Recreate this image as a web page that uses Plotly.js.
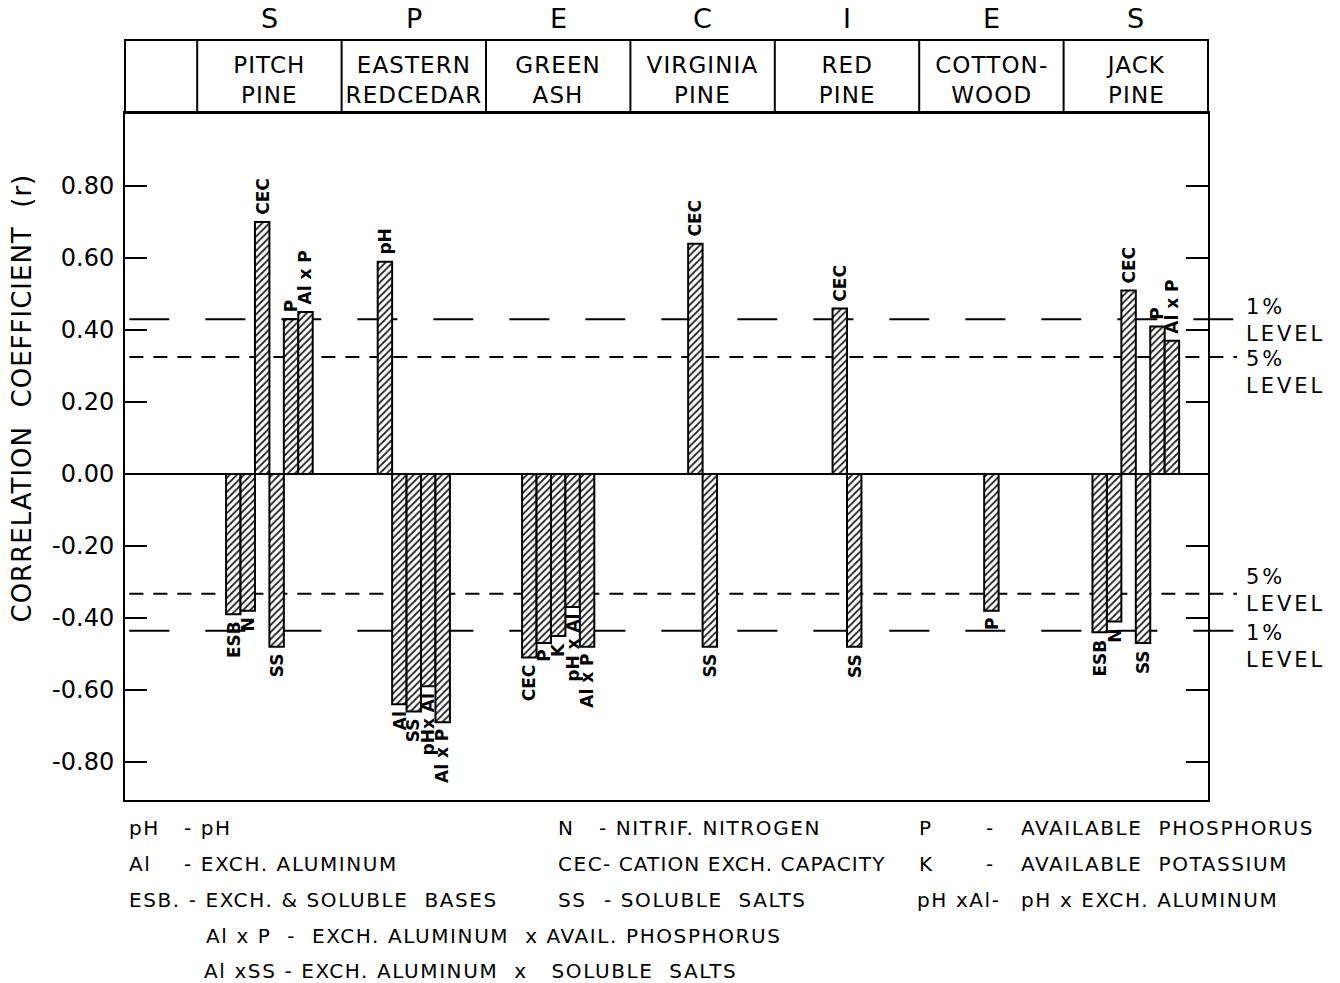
<!DOCTYPE html>
<html>
<head>
<meta charset="utf-8">
<script src="https://cdn.plot.ly/plotly-3.0.1.min.js"></script>
<style>
  html, body { margin: 0; padding: 0; background: #fff; }
  #chart { width: 1340px; height: 983px; }
</style>
</head>
<body>
<div id="chart"></div>
<script>
// ---------------- DATA ----------------
const speciesNames = ['PITCH<br>PINE', 'EASTERN<br>REDCEDAR', 'GREEN<br>ASH', 'VIRGINIA<br>PINE', 'RED<br>PINE', 'COTTON-<br>WOOD', 'JACK<br>PINE'];
const speciesLetters = ['S', 'P', 'E', 'C', 'I', 'E', 'S'];

// one entry per bar: species index, variable label, correlation coefficient r
const barSpecies = [0, 0, 0, 0, 0, 0,
                    1, 1, 1, 1, 1,
                    2, 2, 2, 2, 2,
                    3, 3,
                    4, 4,
                    5,
                    6, 6, 6, 6, 6, 6];
const barVariables = ['ESB', 'N', 'CEC', 'SS', 'P', 'Al x P',
                      'pH', 'Al', 'SS', 'pHx Al', 'Al x P',
                      'CEC', 'P', 'K', 'pH x Al', 'Al x P',
                      'CEC', 'SS',
                      'CEC', 'SS',
                      'P',
                      'ESB', 'N', 'CEC', 'SS', 'P', 'Al x P'];
const barR = [-0.39, -0.38, 0.70, -0.48, 0.43, 0.45,
              0.59, -0.64, -0.66, -0.59, -0.69,
              -0.51, -0.47, -0.45, -0.37, -0.48,
              0.64, -0.48,
              0.46, -0.48,
              -0.38,
              -0.44, -0.41, 0.51, -0.47, 0.41, 0.37];

// significance levels (r)
const levelValues = [0.43, 0.325, -0.333, -0.436];
const levelNames = ['1%<br>LEVEL', '5%<br>LEVEL', '5%<br>LEVEL', '1%<br>LEVEL'];

const yTickVals = [0.8, 0.6, 0.4, 0.2, 0, -0.2, -0.4, -0.6, -0.8];
const yTickText = ['0.80', '0.60', '0.40', '0.20', '0.00', '-0.20', '-0.40', '-0.60', '-0.80'];

const legendRows = [
  [['pH', 128], ['- pH', 183], ['N', 557], ['- NITRIF. NITROGEN', 598], ['P', 918], ['-', 985], ['AVAILABLE  PHOSPHORUS', 1020]],
  [['Al', 128], ['- EXCH. ALUMINUM', 183], ['CEC', 557], ['- CATION EXCH. CAPACITY', 602], ['K', 918], ['-', 985], ['AVAILABLE  POTASSIUM', 1020]],
  [['ESB. - EXCH. & SOLUBLE  BASES', 128], ['SS', 557], ['- SOLUBLE  SALTS', 603], ['pH xAl-', 916], ['pH x EXCH. ALUMINUM', 1020]],
  [['Al x P  -  EXCH. ALUMINUM  x AVAIL. PHOSPHORUS', 205]],
  [['Al xSS - EXCH. ALUMINUM  x   SOLUBLE  SALTS', 203]]
];
const legendRowY = [828, 864, 900, 936, 971];

// ---------------- LAYOUT HELPERS ----------------
const W = 1340, H = 983;
const L = 125, R = 1208, T = 113, B = 800;
const xRange = [-1, 6.5];
const yRange = [-0.906, 1.003];
const barWidth = 0.1;
const FONT = 'DejaVu Sans, Liberation Sans, sans-serif';
const pxX = px => (px - L) / (R - L);
const pxY = py => (B - py) / (B - T);
const dataXToPaper = x => (x - xRange[0]) / (xRange[1] - xRange[0]);
const dataYToPaper = y => (y - yRange[0]) / (yRange[1] - yRange[0]);

// x position of each bar: centred group inside species column
const counts = {};
barSpecies.forEach(s => counts[s] = (counts[s] || 0) + 1);
const seen = {};
const barX = barSpecies.map(s => {
  const k = seen[s] = (seen[s] === undefined ? 0 : seen[s] + 1);
  return s + (k - (counts[s] - 1) / 2) * barWidth;
});

const trace = {
  type: 'bar',
  x: barX,
  y: barR,
  width: barWidth,
  marker: {
    color: 'white',
    line: {color: 'black', width: 2},
    pattern: {shape: '/', fgcolor: '#222', bgcolor: 'white', size: 5, solidity: 0.35}
  },
  hoverinfo: 'skip',
  showlegend: false
};

const annotations = [];
const shapes = [];
const spacing = {};   // annotation index -> letter spacing (px)
function addAnn(a, ls) {
  if (ls) spacing[annotations.length] = ls;
  annotations.push(a);
}

// bar labels
barX.forEach((x, i) => {
  const v = barR[i];
  addAnn({
    x: x, y: v, xref: 'x', yref: 'y',
    text: barVariables[i], showarrow: false, textangle: -90,
    xanchor: 'center', yanchor: v > 0 ? 'bottom' : 'top',
    yshift: v > 0 ? 5 : -5,
    font: {family: FONT, size: 17, color: 'black', weight: 'bold'}
  });
});

// header box
const headTop = pxY(40);
shapes.push({type: 'rect', xref: 'paper', yref: 'paper', x0: 0, x1: 1, y0: 1, y1: headTop,
  line: {color: 'black', width: 2}, layer: 'above'});
for (let i = 0; i < speciesNames.length; i++) {
  const xb = dataXToPaper(i - 0.5);
  shapes.push({type: 'line', xref: 'paper', yref: 'paper', x0: xb, x1: xb, y0: 1, y1: headTop,
    line: {color: 'black', width: 2}, layer: 'above'});
  addAnn({x: dataXToPaper(i), y: pxY(80), xref: 'paper', yref: 'paper',
    text: speciesNames[i], showarrow: false, xanchor: 'center', yanchor: 'middle',
    font: {family: FONT, size: 23, color: 'black'}}, 1.1);
  addAnn({x: dataXToPaper(i), y: pxY(19), xref: 'paper', yref: 'paper',
    text: speciesLetters[i], showarrow: false, xanchor: 'center', yanchor: 'middle',
    font: {family: FONT, size: 27, color: 'black'}});
}

// significance level lines and labels
levelValues.forEach((v, i) => {
  const isOne = levelNames[i].startsWith('1');
  shapes.push({type: 'line', xref: 'paper', yref: 'paper', x0: 0.004, x1: pxX(1237),
    y0: dataYToPaper(v), y1: dataYToPaper(v),
    line: {color: 'black', width: 2, dash: isOne ? '40px,36px' : '14px,10px'}, layer: 'below'});
});
const levelLabelY = [320, 372, 590, 646];
levelNames.forEach((t, i) => {
  addAnn({x: pxX(1245), y: pxY(levelLabelY[i]), xref: 'paper', yref: 'paper',
    text: t, showarrow: false, xanchor: 'left', yanchor: 'middle', align: 'left', borderpad: 0,
    font: {family: FONT, size: 21, color: 'black'}}, 3);
});

// y axis title
addAnn({x: pxX(22), y: pxY(398), xref: 'paper', yref: 'paper',
  text: 'CORRELATION  COEFFICIENT  (r)', showarrow: false, textangle: -90,
  xanchor: 'center', yanchor: 'middle',
  font: {family: FONT, size: 26, color: 'black'}}, 1);

// abbreviation key
legendRows.forEach((row, r) => {
  row.forEach(([txt, px]) => {
    addAnn({x: pxX(px), y: pxY(legendRowY[r]), xref: 'paper', yref: 'paper',
      text: txt, showarrow: false, xanchor: 'left', yanchor: 'middle', align: 'left', borderpad: 0,
      font: {family: FONT, size: 20, color: 'black'}}, txt.indexOf('CATION') >= 0 ? 1.1 : 1.6);
  });
});

const layout = {
  width: W, height: H,
  margin: {l: L, r: W - R, t: T, b: H - B, pad: 0},
  paper_bgcolor: 'white', plot_bgcolor: 'white',
  showlegend: false,
  xaxis: {range: xRange, showgrid: false, zeroline: false, showticklabels: false,
    ticks: '', showline: true, linecolor: 'black', linewidth: 2, mirror: true, fixedrange: true},
  yaxis: {range: yRange, showgrid: false, zeroline: true, zerolinecolor: 'black', zerolinewidth: 2,
    tickvals: yTickVals, ticktext: yTickText, ticks: 'inside', ticklen: 22, tickwidth: 2,
    tickcolor: 'black', showline: true, linecolor: 'black', linewidth: 2, mirror: 'ticks',
    ticklabelstandoff: 4,
    tickfont: {family: FONT, size: 24, color: 'black'}, fixedrange: true},
  shapes: shapes,
  annotations: annotations
};

Plotly.newPlot('chart', [trace], layout, {displayModeBar: false, staticPlot: true}).then(gd => {
  Object.keys(spacing).forEach(idx => {
    const g = gd.querySelector('.annotation[data-index="' + idx + '"] text.annotation-text');
    if (g) g.style.letterSpacing = spacing[idx] + 'px';
  });
});
</script>
</body>
</html>
